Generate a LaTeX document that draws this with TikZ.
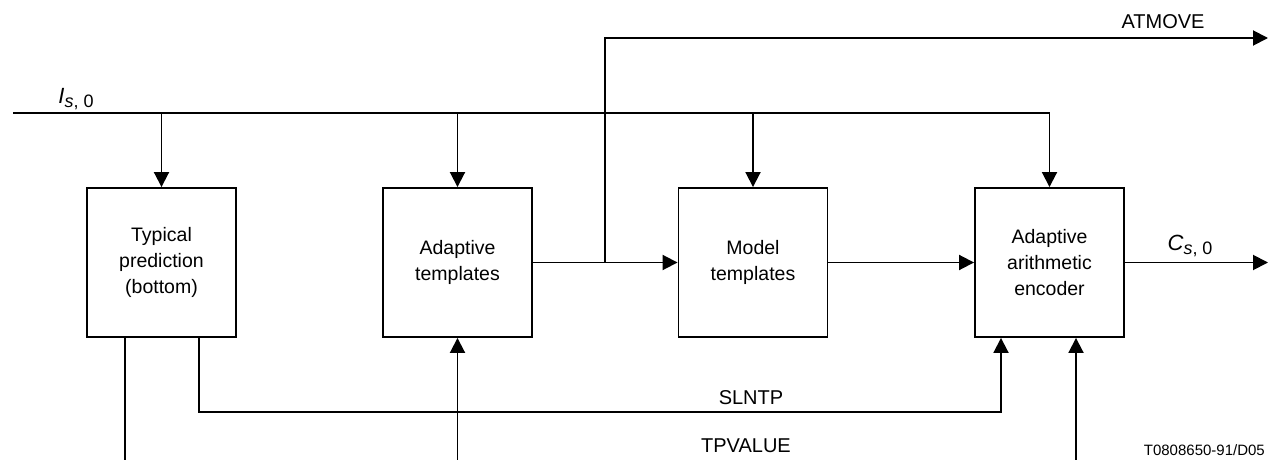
\documentclass[tikz,border=0pt]{standalone}
\usepackage{fontspec}
\setmainfont{Liberation Sans}
\usetikzlibrary{arrows.meta,calc}
\begin{document}
\begin{tikzpicture}[x=1pt,y=-1pt,
  wire/.style={line width=1.9pt},
  arr/.style={wire,-{Triangle[length=15pt,width=15pt]}},
  blk/.style={draw,line width=1.9pt,minimum width=149pt,minimum height=149pt,align=center,
    font=\fontsize{19.5}{26}\selectfont,inner sep=0pt},
  lbl/.style={font=\fontsize{20}{22}\selectfont,inner sep=0pt}]
\useasboundingbox (0,0) rectangle (1270,460);
\node[blk] (b1) at (161.5,262.5) {Typical\\prediction\\(bottom)};
\node[blk] (b2) at (457.5,262.5) {Adaptive\\templates};
\node[blk] (b3) at (753,262.5) {Model\\templates};
\node[blk] (b4) at (1049.5,262.5) {Adaptive\\arithmetic\\encoder};
% input line
\coordinate (in) at (13,113);
\coordinate (j4) at (b4.north |- in);
\draw[wire] (in) -- (j4);
\draw[arr] (j4) -- (b4.north);
\draw[arr] (b1.north |- in) -- (b1.north);
\draw[arr] (b2.north |- in) -- (b2.north);
\draw[arr] (b3.north |- in) -- (b3.north);
\node[lbl] (ilab) at (76,99) {\fontsize{22}{22}\selectfont\textit{I}\raisebox{-4pt}{\fontsize{18}{18}\selectfont\textit{s}, 0}};
% chain
\draw[arr] (b2.east) -- (b3.west);
\draw[arr] (b3.east) -- (b4.west);
\coordinate (cout) at (1268,262.5);
\draw[arr] (b4.east) -- (cout);
\node[lbl] (clab) at (1190,246) {\fontsize{22}{22}\selectfont\textit{C}\raisebox{-4pt}{\fontsize{18}{18}\selectfont\textit{s}, 0}};
% ATMOVE
\coordinate (ja) at (605,262.5);
\coordinate (atm) at (1268,38);
\draw[arr] (ja) |- (atm);
\node[lbl] (atlab) at (1163,22) {ATMOVE};
% SLNTP
\coordinate (s1) at ($(b1.south)+(37.5,0)$);
\coordinate (s2) at ($(b4.south)+(-48.5,0)$);
\draw[arr] (s1) -- (s1 |- 0,412) -| (s2);
\node[lbl] (slab) at (751,398) {SLNTP};
% TPVALUE
\coordinate (t1) at ($(b1.south)+(-36.5,0)$);
\coordinate (t1e) at (t1 |- 0,460);
\draw[wire] (t1) -- (t1e);
\coordinate (t2) at (b2.south |- 0,460);
\draw[arr] (t2) -- (b2.south);
\coordinate (t3) at ($(b4.south)+(26.5,0)$);
\coordinate (t3e) at (t3 |- 0,460);
\draw[arr] (t3e) -- (t3);
\node[lbl] (tlab) at (746,446) {TPVALUE};
\node[font=\fontsize{15}{16}\selectfont,inner sep=0pt,anchor=east] (ref) at (1265,450) {T0808650-91/D05};
\end{tikzpicture}
\end{document}
